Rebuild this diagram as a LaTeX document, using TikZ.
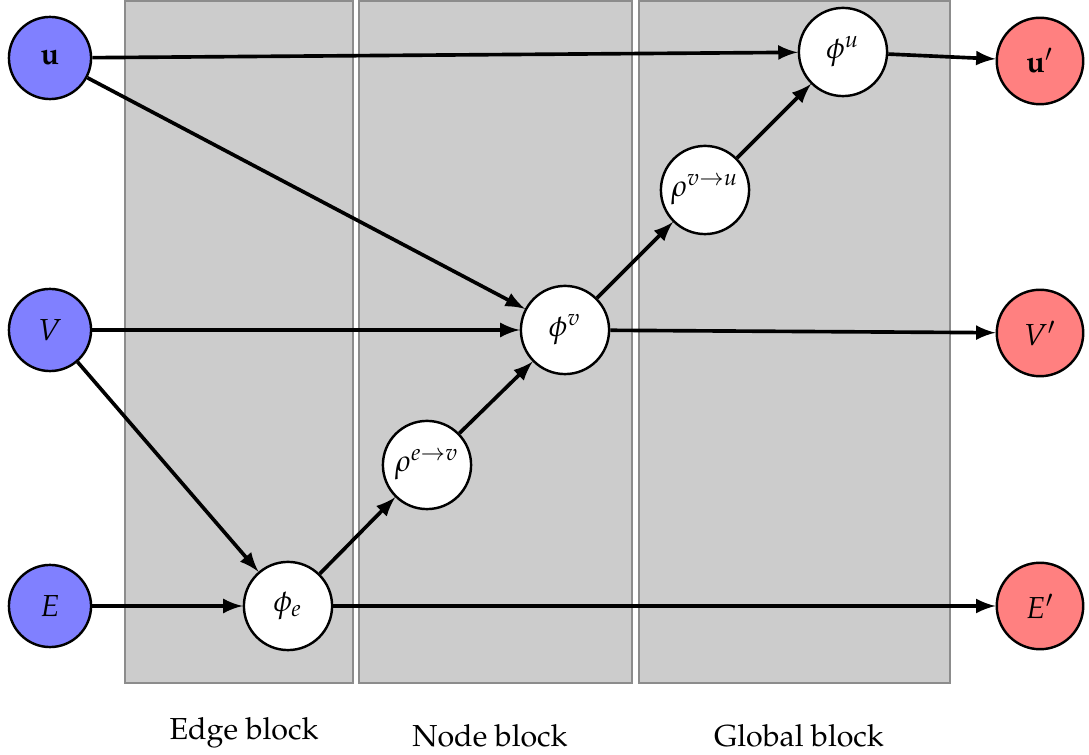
\documentclass[tikz,border=0pt]{standalone}
\usepackage[T1]{fontenc}
\usepackage{mathpazo}
\usepackage{amsmath}
\usepackage{bm}
\usepackage{xcolor}

\begin{document}
\begin{tikzpicture}[x=0.01157cm, y=-0.01157cm, >=latex]
		\tikzstyle{inp}=[circle, draw, thick, fill=blue!50, minimum size=0.95cm, inner sep=0pt]
		\tikzstyle{outp}=[circle, draw, thick, fill=red!50, minimum size=1cm, inner sep=0pt]
		\tikzstyle{fn}=[circle, draw, thick, fill=white, minimum size=1.02cm, inner sep=0pt]
		\tikzstyle{blk}=[draw=black!45, fill=black!20]
		\tikzstyle{flow}=[line width=1.2pt, ->]

			\useasboundingbox (0, 0) rectangle (1089, 755);

			% the three blocks
			\draw[blk] (125, 1) rectangle (353, 683);
			\draw[blk] (359, 1) rectangle (632, 683);
			\draw[blk] (639, 1) rectangle (950, 683);
			\node[anchor=base] (edgelbl) at (244, 740) {Edge block};
			\node[anchor=base] (nodelbl) at (490, 747) {Node block};
			\node[anchor=base] (globlbl) at (799, 747) {Global block};

			% inputs
			\node[inp] (u) at (50, 58) {$\mathbf{u}$};
			\node[inp] (V) at (50, 330) {$V$};
			\node[inp] (E) at (50, 606) {$E$};

			% update and aggregation functions
			\node[fn] (phie) at (288, 606) {$\phi_e$};
			\node[fn] (rhoev) at (427, 465) {$\rho^{e\rightarrow v}$};
			\node[fn] (phiv) at (565, 330) {$\phi^v$};
			\node[fn] (rhovu) at (705, 190) {$\rho^{v\rightarrow u}$};
			\node[fn] (phiu) at (843, 52) {$\phi^u$};

			% outputs
			\node[outp] (uout) at (1040, 61) {$\mathbf{u}'$};
			\node[outp] (Vout) at (1040, 333) {$V'$};
			\node[outp] (Eout) at (1040, 606) {$E'$};

			\draw[flow] (u) -- (phiu);
			\draw[flow] (u) -- (phiv);
			\draw[flow] (V) -- (phiv);
			\draw[flow] (V) -- (phie);
			\draw[flow] (E) -- (phie);
			\draw[flow] (phie) -- (rhoev);
			\draw[flow] (rhoev) -- (phiv);
			\draw[flow] (phiv) -- (rhovu);
			\draw[flow] (rhovu) -- (phiu);
			\draw[flow] (phiu) -- (uout);
			\draw[flow] (phiv) -- (Vout);
			\draw[flow] (phie) -- (Eout);
		\end{tikzpicture}
\end{document}
